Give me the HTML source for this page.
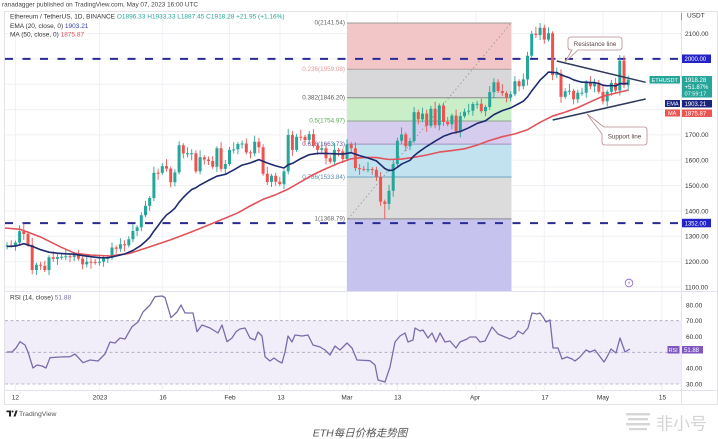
<!DOCTYPE html>
<html><head><meta charset="utf-8">
<style>
html,body{margin:0;padding:0;background:#fff;width:718px;height:439px;overflow:hidden;}
svg{display:block;font-family:"Liberation Sans","Noto Sans CJK SC",sans-serif;}
.ax{font-size:6.5px;fill:#333;}
.lg{font-size:6.5px;fill:#333;}
.tg{font-size:6px;fill:#fff;}
.fl{font-size:6.3px;text-anchor:end;dominant-baseline:middle;}
</style></head>
<body>
<svg width="718" height="439" viewBox="0 0 718 439" xmlns="http://www.w3.org/2000/svg">
<defs>
<clipPath id="pp"><rect x="5" y="12" width="676.5" height="279.5"/></clipPath>
<clipPath id="rp"><rect x="5" y="292" width="676.5" height="98"/></clipPath>
</defs>
<rect width="718" height="439" fill="#fff"/>
<text x="2" y="6.5" style="font-size:6.4px;fill:#444">ranadagger published on TradingView.com, May 07, 2023 16:00 UTC</text>
<rect x="4.5" y="11.5" width="713" height="393" fill="none" stroke="#e4e4e8"/>

<g clip-path="url(#pp)">
 <g stroke="#f0f1f5" stroke-width="1">
  <line x1="5" x2="681" y1="33.5" y2="33.5"/><line x1="5" x2="681" y1="58.9" y2="58.9"/>
  <line x1="5" x2="681" y1="84.2" y2="84.2"/><line x1="5" x2="681" y1="109.6" y2="109.6"/>
  <line x1="5" x2="681" y1="134.9" y2="134.9"/><line x1="5" x2="681" y1="160.3" y2="160.3"/>
  <line x1="5" x2="681" y1="185.6" y2="185.6"/><line x1="5" x2="681" y1="211" y2="211"/>
  <line x1="5" x2="681" y1="236.3" y2="236.3"/><line x1="5" x2="681" y1="261.7" y2="261.7"/>
  <line x1="5" x2="681" y1="287" y2="287"/>
  <line x1="15.4" x2="15.4" y1="12" y2="291"/><line x1="99.4" x2="99.4" y1="12" y2="291"/>
  <line x1="162.3" x2="162.3" y1="12" y2="291"/><line x1="229.5" x2="229.5" y1="12" y2="291"/>
  <line x1="280" x2="280" y1="12" y2="291"/><line x1="347" x2="347" y1="12" y2="291"/>
  <line x1="397.4" x2="397.4" y1="12" y2="291"/><line x1="476" x2="476" y1="12" y2="291"/>
  <line x1="544.3" x2="544.3" y1="12" y2="291"/><line x1="603" x2="603" y1="12" y2="291"/>
  <line x1="662" x2="662" y1="12" y2="291"/>
 </g>
 <!-- fib -->
 <rect x="347" y="23" width="164.5" height="46.2" fill="#f2c6c7"/>
 <rect x="347" y="69.2" width="164.5" height="28.6" fill="#d8d8da"/>
 <rect x="347" y="97.8" width="164.5" height="23.2" fill="#c9eec8"/>
 <rect x="347" y="121" width="164.5" height="23.1" fill="#d5ccee"/>
 <rect x="347" y="144.1" width="164.5" height="32.9" fill="#c2e2ef"/>
 <rect x="347" y="177" width="164.5" height="41.9" fill="#dcdcdd"/>
 <rect x="347" y="218.9" width="164.5" height="73" fill="#c6c3ef"/>
 <g stroke-width="1">
  <line x1="347" x2="511.5" y1="23" y2="23" stroke="#9a9a9a"/>
  <line x1="347" x2="511.5" y1="69.2" y2="69.2" stroke="#a8a0a0"/>
  <line x1="347" x2="511.5" y1="97.8" y2="97.8" stroke="#8a8a8a"/>
  <line x1="347" x2="511.5" y1="121" y2="121" stroke="#8fa88f"/>
  <line x1="347" x2="511.5" y1="144.1" y2="144.1" stroke="#a090c0"/>
  <line x1="347" x2="511.5" y1="177" y2="177" stroke="#6aa5c0"/>
  <line x1="347" x2="511.5" y1="218.9" y2="218.9" stroke="#8a8a8a"/>
 </g>
 <line x1="348" y1="219" x2="511" y2="23" stroke="#9a9a9a" stroke-width="0.9" stroke-dasharray="1.5 2.5"/>
 <text class="fl" x="345" y="23" fill="#666">0(2141.54)</text>
 <text class="fl" x="345" y="69.5" fill="#e29a9e">0.236(1959.08)</text>
 <text class="fl" x="345" y="98" fill="#555">0.382(1846.20)</text>
 <text class="fl" x="345" y="121" fill="#5aa85a">0.5(1754.97)</text>
 <text class="fl" x="345" y="144.3" fill="#6a5a9a">0.618(1663.73)</text>
 <text class="fl" x="345" y="177.3" fill="#5a8aa5">0.786(1533.84)</text>
 <text class="fl" x="345" y="219" fill="#666">1(1368.79)</text>
 <!-- dashed horizontal -->
 <line x1="5" x2="680" y1="58.9" y2="58.9" stroke="#2a2a96" stroke-width="2" stroke-dasharray="8 9.5"/>
 <line x1="5" x2="680" y1="223.1" y2="223.1" stroke="#2a2a96" stroke-width="2" stroke-dasharray="8 9.5"/>

 <!-- candles: green wicks -->
 <path fill="none" stroke="#26a69a" stroke-width="0.9" d="M7 242.2V249.4M15.4 240.6V250.7M19.6 225.2V245.6M36.4 262.7V275M49 255.3V275M57.4 253.1V264.9M61.6 253.8V259.8M65.8 249.3V260.3M74.2 252.1V261.1M86.8 255.7V267.4M99.4 254.7V265.7M103.6 256.1V266.7M107.8 254.85V262.9M112 242.45V259.85M120.4 238.2V251.7M128.8 236.3V247.4M132.9 224V242.3M137.1 225.2V236M141.3 212.3V231.2M145.5 200.9V217.3M149.7 196V210.9M153.9 166.7V201M162.3 163.1V174.9M174.9 169.4V186.3M179.1 141.2V174.4M187.5 147.2V157.4M191.7 149.2V160.2M200.1 150.2V174.4M216.9 146.3V171.8M225.3 160.05V174.9M229.5 146.9V166.05M233.7 142.35V153.35M237.9 142V154.35M242.1 140.5V148.5M254.7 135.7V156.4M271.5 173.7V187.05M284 169.4V189.1M288.2 128.9V174.4M296.6 133.7V151.9M309.2 131.1V144M321.8 142.3V152.9M334.4 142.9V164.8M347 139.3V161M368 162.1V172.4M389 184.7V209.7M393.2 160.05V196.7M397.4 137.7V166.05M401.6 127.4V143.7M410 138V150.3M414.1 107.1V143M422.5 107.6V122.4M430.9 105.8V127.8M439.3 103.5V130.3M451.9 113.6V129.25M460.3 112.1V137.35M464.5 108.6V118.1M468.7 103.8V114.6M472.9 102V115.8M477.1 100.7V108.7M485.5 105V116.1M489.7 86.1V110M493.9 78.2V98.1M510.7 91.3V101.4M514.9 76.2V96.3M523.3 73.4V89.2M527.5 51.8V85.4M531.7 30.75V57.8M540.1 23V40M548.5 27.2V41.6M556.8 67.55V78.1M565.2 88.3V98.9M569.4 83.8V94.8M577.8 89.8V103.2M582 87.8V95.8M586.2 80.2V97.8M594.6 78.9V92.2M607.2 89.8V106.4M611.4 79.9V95.8M619.8 55.3V95.5M628.2 75.6V91.2"/>
 <!-- green bodies -->
 <path fill="#26a69a" d="M5.5 245.2h3V246.2h-3ZM13.9 242.6h3V245.7h-3ZM18.1 231.2h3V242.6h-3ZM34.9 264.7h3V270h-3ZM47.5 257.3h3V270h-3ZM55.9 257.1h3V258.9h-3ZM60.1 256.8h3V257.8h-3ZM64.3 256.3h3V257.3h-3ZM72.7 255.1h3V257.1h-3ZM85.3 261.7h3V264.4h-3ZM97.9 261.7h3V262.7h-3ZM102.1 258.1h3V261.7h-3ZM106.3 257.85h3V258.85h-3ZM110.5 247.45h3V257.85h-3ZM118.9 244.2h3V248.7h-3ZM127.3 239.3h3V245.4h-3ZM131.4 231h3V239.3h-3ZM135.6 227.2h3V231h-3ZM139.8 215.3h3V227.2h-3ZM144 205.9h3V215.3h-3ZM148.2 198h3V205.9h-3ZM152.4 172.7h3V198h-3ZM160.8 166.1h3V172.9h-3ZM173.4 172.4h3V182.3h-3ZM177.6 145.3h3V172.4h-3ZM186 153.2h3V154.2h-3ZM190.2 153.2h3V154.2h-3ZM198.6 157.2h3V171.4h-3ZM215.4 148.3h3V166.8h-3ZM223.8 164.05h3V168.9h-3ZM228 149.9h3V164.05h-3ZM232.2 149.35h3V150.35h-3ZM236.4 144h3V149.35h-3ZM240.6 143.5h3V144.5h-3ZM253.2 141.7h3V153.4h-3ZM270 175.7h3V182.05h-3ZM282.5 171.4h3V184.1h-3ZM286.7 134.9h3V171.4h-3ZM295.1 136.7h3V149.9h-3ZM307.7 134.1h3V140h-3ZM320.3 148.3h3V149.9h-3ZM332.9 149.9h3V161.8h-3ZM345.5 144.3h3V159h-3ZM366.5 169.1h3V170.1h-3ZM387.5 190.7h3V203.85h-3ZM391.7 164.05h3V190.7h-3ZM395.9 140.7h3V164.05h-3ZM400.1 134.4h3V140.7h-3ZM408.5 141h3V146.3h-3ZM412.6 112.1h3V141h-3ZM421 113.6h3V119.4h-3ZM429.4 108.8h3V125.8h-3ZM437.8 105.5h3V125.3h-3ZM450.4 115.6h3V124.25h-3ZM458.8 116.1h3V131.35h-3ZM463 111.6h3V116.1h-3ZM467.2 110.8h3V111.6h-3ZM471.4 104h3V110.8h-3ZM475.6 103.7h3V104.7h-3ZM484 107h3V111.1h-3ZM488.2 92.1h3V107h-3ZM492.4 82.2h3V92.1h-3ZM509.2 94.3h3V97.4h-3ZM513.4 81.2h3V94.3h-3ZM521.8 79.4h3V86.2h-3ZM526 55.8h3V79.4h-3ZM530.2 33.75h3V55.8h-3ZM538.6 27.7h3V35h-3ZM547 33.25h3V39.6h-3ZM555.3 73.55h3V75.1h-3ZM563.7 91.3h3V96.9h-3ZM567.9 90.8h3V91.8h-3ZM576.3 92.8h3V99.2h-3ZM580.5 92.8h3V93.8h-3ZM584.7 82.2h3V92.8h-3ZM593.1 82.9h3V86.2h-3ZM605.7 91.8h3V101.4h-3ZM609.9 82.9h3V91.8h-3ZM618.3 60.6h3V90.5h-3ZM626.7 79.6h3V85.2h-3Z"/>
 <!-- red wicks -->
 <path fill="none" stroke="#ef5350" stroke-width="0.9" d="M11.2 240.2V247.7M23.8 223.6V240M28 231V246.9M32.2 237.9V274.3M40.6 261.7V269.7M44.8 260.7V272M53.2 251.3V261.9M70 254.3V262.1M78.4 250.1V260.6M82.6 256.6V269.4M91 257.7V268.7M95.2 258.9V264.7M116.2 245.45V253.7M124.6 240.2V251.4M158.1 168.7V179.7M166.5 159.1V171.6M170.7 166.6V187.3M183.3 143.3V158.4M195.9 150.2V173.4M204.3 155.2V164.5M208.5 156.5V165M212.7 156V168.8M221.1 142.3V171.9M246.3 138.5V154.4M250.5 150.4V158.4M258.9 137.7V153.3M263.1 144.3V175.7M267.3 166.7V185.05M275.7 172.7V185.8M279.8 176.8V186.1M292.4 130.9V155.9M300.8 129.7V140.7M305 134.9V145M313.4 129.1V147.55M317.6 143.55V154.9M326 144.3V164.2M330.2 155.2V163.8M338.6 147.9V156.4M342.8 148.4V163M351.2 142.3V153.3M355.4 142.3V171.1M359.6 164.1V174.9M363.8 165.9V171.4M372.2 167.1V174.9M376.4 166.9V181M380.6 172V205.9M384.8 199.6V218.9M405.8 132.4V151.3M418.3 109.55V124.4M426.7 109.6V131.8M435.1 101.8V128.3M443.5 102.5V126M447.7 117V126.25M456.1 109.6V134.35M481.3 98.7V113.1M498.1 79.2V93M502.3 84V96.1M506.5 91.1V102.4M519.1 79.2V91.2M535.9 26.75V38M544.3 24.7V43.6M552.6 31.25V80.1M561 69.55V102.9M573.6 88.8V104.2M590.4 76.2V89.2M598.8 79.9V93.8M603 84.8V104.4M615.6 77.9V92.5M624 55.5V88.2"/>
 <!-- red bodies -->
 <path fill="#ef5350" d="M9.7 245.2h3V246.2h-3ZM22.3 231.2h3V234h-3ZM26.5 234h3V244.9h-3ZM30.7 244.9h3V270h-3ZM39.1 264.7h3V265.7h-3ZM43.3 265.7h3V270h-3ZM51.7 257.3h3V258.9h-3ZM68.5 256.3h3V257.3h-3ZM76.9 255.1h3V258.6h-3ZM81.1 258.6h3V264.4h-3ZM89.5 261.7h3V262.7h-3ZM93.7 261.9h3V262.9h-3ZM114.7 247.45h3V248.7h-3ZM123.1 244.2h3V245.4h-3ZM156.6 172.7h3V173.7h-3ZM165 166.1h3V168.6h-3ZM169.2 168.6h3V182.3h-3ZM181.8 145.3h3V153.4h-3ZM194.4 153.2h3V171.4h-3ZM202.8 157.2h3V159.5h-3ZM207 159.5h3V161h-3ZM211.2 161h3V166.8h-3ZM219.6 148.3h3V168.9h-3ZM244.8 143.5h3V152.4h-3ZM249 152.4h3V153.4h-3ZM257.4 141.7h3V147.3h-3ZM261.6 147.3h3V173.7h-3ZM265.8 173.7h3V182.05h-3ZM274.2 175.7h3V181.8h-3ZM278.3 181.8h3V184.1h-3ZM290.9 134.9h3V149.9h-3ZM299.3 136.7h3V137.7h-3ZM303.5 136.9h3V140h-3ZM311.9 134.1h3V145.55h-3ZM316.1 145.55h3V149.9h-3ZM324.5 148.3h3V158.2h-3ZM328.7 158.2h3V161.8h-3ZM337.1 149.9h3V151.4h-3ZM341.3 151.4h3V159h-3ZM349.7 144.3h3V148.3h-3ZM353.9 148.3h3V168.1h-3ZM358.1 168.1h3V169.1h-3ZM362.3 168.9h3V169.9h-3ZM370.7 169.1h3V170.1h-3ZM374.9 169.9h3V177h-3ZM379.1 177h3V201.6h-3ZM383.3 201.6h3V203.85h-3ZM404.3 134.4h3V146.3h-3ZM416.8 112.1h3V119.4h-3ZM425.2 113.6h3V125.8h-3ZM433.6 108.8h3V125.3h-3ZM442 105.5h3V122h-3ZM446.2 122h3V124.25h-3ZM454.6 115.6h3V131.35h-3ZM479.8 103.7h3V111.1h-3ZM496.6 82.2h3V91h-3ZM500.8 91h3V93.1h-3ZM505 93.1h3V97.4h-3ZM517.6 81.2h3V86.2h-3ZM534.4 33.75h3V35h-3ZM542.8 27.7h3V39.6h-3ZM551.1 33.25h3V75.1h-3ZM559.5 73.55h3V96.9h-3ZM572.1 90.8h3V99.2h-3ZM588.9 82.2h3V86.2h-3ZM597.3 82.9h3V91.8h-3ZM601.5 91.8h3V101.4h-3ZM614.1 82.9h3V90.5h-3ZM622.5 60.6h3V85.2h-3Z"/>

 <!-- MA 50 -->
 <polyline fill="none" stroke="#e0535b" stroke-width="1.6" stroke-linejoin="round" points="5,228 20,229.3 40,236.7 60,246.7 75,253.3 90,255 110,256 130,253.3 150,246.7 170,240 190,232.5 200,228.5 212.7,223.2 225.3,218.1 237.9,212.8 250.5,205.75 263.1,199.3 275.7,194.7 288.2,189.1 300.8,181.8 313.4,174.5 326,168.6 338.6,163.25 351.2,158.8 363.8,157.4 376.4,157.6 389,159.5 401.6,159.1 414.1,157.3 426.7,155 439.3,152.1 451.9,150.6 464.5,148.8 477.1,145.1 489.7,140.5 502.3,136.7 514.9,133.9 527.5,129.7 540.1,122.3 552.6,116.05 565.2,112.1 577.8,107.6 590.4,101.8 603,96.2 615.6,93.1 628.2,90.1"/>
 <!-- EMA 20 -->
 <polyline fill="none" stroke="#1d2a6e" stroke-width="1.6" stroke-linejoin="round" points="7,246.5 15.4,246.1 23.8,243.7 32.2,246.3 40.6,249.7 49,252.2 57.4,253.2 65.8,253.8 74.2,254.2 82.6,255.6 91,256.7 99.4,257.7 107.8,257.75 116.2,256 124.6,254 132.9,250.5 141.3,245.15 145.5,241.4 149.7,237.3 153.9,231.1 158.1,225.6 162.3,219.9 166.5,215 170.7,211.9 174.9,208.2 179.1,202.2 183.3,197.5 187.5,193.3 191.7,189.5 195.9,187.75 200.1,184.9 208.5,180.4 216.9,176.2 225.3,174.4 233.7,169.9 242.1,165.1 250.5,162.9 258.9,159.6 267.3,163 275.7,165.9 284,168 288.2,164.8 292.4,163.4 300.8,158.6 309.2,154.65 317.6,153.4 326,153.4 334.4,153.8 342.8,154.1 351.2,152.7 359.6,155.6 368,158 376.4,160.9 380.6,164.7 384.8,168.5 389,170.6 393.2,170 397.4,167.2 401.6,164.05 410,160.3 414.1,155.7 418.3,152.3 426.7,146.4 435.1,141.2 443.5,136.3 451.9,133.25 460.3,131.5 468.7,127.8 477.1,123.4 485.5,120.8 493.9,114.65 502.3,110.6 510.7,107.9 519.1,103.5 523.3,101.2 527.5,96.9 531.7,90.9 535.9,85.6 540.1,80.1 544.3,76.2 548.5,72.1 552.6,72.4 556.8,72.5 561,74.8 565.2,76.4 569.4,77.8 573.6,79.8 577.8,81.1 582,82.2 586.2,82.2 590.4,82.55 594.6,82.6 598.8,83.5 603,85.2 607.2,85.8 611.4,85.5 615.6,86 619.8,83.6 624,83.7 628.2,83.4"/>

 <!-- trend lines -->
 <line x1="556.7" y1="61" x2="645.7" y2="82.3" stroke="#2e3a58" stroke-width="1.5"/>
 <line x1="552.7" y1="120" x2="645.7" y2="99" stroke="#2e3a58" stroke-width="1.5"/>
 <!-- callouts -->
 <path d="M571,37 H619 Q622,37 622,40 V47 Q622,50 619,50 H578 L565,62 L572,50 H571 Q568,50 568,47 V40 Q568,37 571,37 Z" fill="#fff" stroke="#b98a8c" stroke-width="0.8"/>
 <text x="595" y="45.8" text-anchor="middle" style="font-size:6.3px;fill:#5a4646">Resistance line</text>
 <path d="M605,127 H644 Q647,127 647,130 V142 Q647,145 644,145 H605 Q602,145 602,142 V134 L587,114 L604,127 Z" fill="#fff" stroke="#b98a8c" stroke-width="0.8"/>
 <text x="624.5" y="138.3" text-anchor="middle" style="font-size:6.3px;fill:#5a4646">Support line</text>
 <!-- lightning -->
 <circle cx="629" cy="283" r="3.8" fill="#fff" stroke="#9064c8" stroke-width="0.8"/>
 <path d="M629.8,280.6 L628,283.3 L629.4,283.3 L628.3,285.6 L630.2,282.6 L628.9,282.6 Z" fill="#9064c8"/>
</g>

<!-- legend -->
<text class="lg" x="10" y="18.5">Ethereum / TetherUS, 1D, BINANCE <tspan fill="#26a69a">O1896.33</tspan> <tspan fill="#26a69a">H1933.33</tspan> <tspan fill="#26a69a">L1887.45</tspan> <tspan fill="#26a69a">C1918.28</tspan> <tspan fill="#26a69a">+21.95 (+1.16%)</tspan></text>
<text class="lg" x="10" y="28">EMA (20, close, 0) <tspan fill="#2f3fa8">1903.21</tspan></text>
<text class="lg" x="10" y="36.5">MA (50, close, 0) <tspan fill="#e0535b">1875.87</tspan></text>

<!-- separators -->
<line x1="681.5" y1="11.5" x2="681.5" y2="404" stroke="#e0e3eb"/>
<line x1="5" y1="291.5" x2="717" y2="291.5" stroke="#e0e3eb"/>
<line x1="5" y1="390.5" x2="717" y2="390.5" stroke="#e0e3eb"/>
<line x1="681.5" y1="13" x2="681.5" y2="20" stroke="#999"/>

<!-- price axis -->
<text class="ax" x="687" y="17.5">USDT</text>
<g class="ax">
<text x="685" y="35.8">2100.00</text>
<text x="685" y="137.2">1700.00</text>
<text x="685" y="162.6">1600.00</text>
<text x="685" y="187.9">1500.00</text>
<text x="685" y="213.3">1400.00</text>
<text x="685" y="238.6">1300.00</text>
<text x="685" y="264">1200.00</text>
<text x="685" y="289.3">1100.00</text>
</g>
<rect x="682" y="54.5" width="29" height="8.5" fill="#2222c8"/>
<text class="tg" x="684.5" y="61">2000.00</text>
<rect x="682" y="218.8" width="29" height="8.5" fill="#2222c8"/>
<text class="tg" x="684.5" y="225.3">1352.00</text>
<rect x="649.5" y="76" width="30.5" height="7.5" rx="0.5" fill="#26a69a"/>
<text class="tg" x="651.5" y="82" style="font-size:5.6px">ETHUSDT</text>
<rect x="682" y="76" width="30" height="21.5" fill="#26a69a"/>
<text class="tg" x="684.5" y="82.2">1918.28</text>
<text class="tg" x="684.5" y="89">+51.87%</text>
<text class="tg" x="684.5" y="95.6" style="font-size:5.6px">07:59:17</text>
<rect x="665" y="100" width="15" height="7" fill="#1a237e"/>
<text class="tg" x="666.5" y="105.6" style="font-size:5.6px">EMA</text>
<rect x="682" y="100" width="30" height="7.5" fill="#1a237e"/>
<text class="tg" x="684.5" y="106.2">1903.21</text>
<rect x="665" y="109.5" width="15" height="7" fill="#ef5350"/>
<text class="tg" x="668" y="115" style="font-size:5.6px">MA</text>
<rect x="682" y="109.5" width="30" height="7.5" fill="#ef5350"/>
<text class="tg" x="684.5" y="115.7">1875.87</text>

<!-- RSI pane -->
<g clip-path="url(#rp)">
 <g stroke="#f0f1f5">
  <line x1="15.4" x2="15.4" y1="292" y2="390"/><line x1="99.4" x2="99.4" y1="292" y2="390"/>
  <line x1="162.3" x2="162.3" y1="292" y2="390"/><line x1="229.5" x2="229.5" y1="292" y2="390"/>
  <line x1="280" x2="280" y1="292" y2="390"/><line x1="347" x2="347" y1="292" y2="390"/>
  <line x1="397.4" x2="397.4" y1="292" y2="390"/><line x1="476" x2="476" y1="292" y2="390"/>
  <line x1="544.3" x2="544.3" y1="292" y2="390"/><line x1="603" x2="603" y1="292" y2="390"/>
  <line x1="662" x2="662" y1="292" y2="390"/>
 </g>
 <rect x="5" y="320.7" width="676.5" height="63.3" fill="#f1eef9"/>
 <g stroke="#aaa6bf" stroke-width="0.8" stroke-dasharray="3 2.5">
  <line x1="5" x2="681" y1="320.7" y2="320.7"/>
  <line x1="5" x2="681" y1="352.3" y2="352.3"/>
  <line x1="5" x2="681" y1="384" y2="384"/>
 </g>
 <polyline fill="none" stroke="#7b6bab" stroke-width="1.3" stroke-linejoin="round" points="7,352 12,352 16,348 20,341.7 25,345 28,352 33,368 37,365 42,366 46,368 50,357.7 60,357 70,356.7 75,354 83,362.7 90,360 98,361 105,354 110,342 115,343 120,338 125,339 132,326.7 138,322 143,312 150,305 155,296.7 162,296 165,297.5 171,317.7 177,312 181,305 185,313 193,313 197,331.7 202,325 210,328 218,333 222,325 227,341.7 232,338 236,331.7 240,329 245,328 250,338 255,340 258,332 262,336 265,356.7 270,361 274,358 278,361 282,363 285,352 288,336 292,342 295,335 302,336 308,335 313,345 320,347 325,350 330,355 335,346 340,350 347,343 352,348 357,360 370,360.7 375,365 378,380 385,382 390,367 395,342 400,336 405,333 408,342 413,340 415,328 420,331 423,330 428,338 432,333 436,342 440,333 445,342 450,341 456,348 460,342 467,339 470,337 476,337 480,342 485,341 492,327 498,334 505,337 510,339 515,336 518,331 523,334 528,328 532,313 537,314 540,313 543,317 546,322 550,320 553,348 558,348 562,359 567,357 572,359 575,361 580,357 586,350 590,352 595,350 598,354 604,362 607,357 611,349 616,353 620,338 625,352 630,349"/>
</g>
<text class="lg" x="10" y="299.5">RSI (14, close) <tspan fill="#7b6bab">51.88</tspan></text>
<g class="ax">
<text x="686" y="307.3">80.00</text>
<text x="686" y="323">70.00</text>
<text x="686" y="338.8">60.00</text>
<text x="686" y="370.3">40.00</text>
<text x="686" y="386.3">30.00</text>
</g>
<rect x="667.5" y="346" width="12" height="7.5" fill="#7e57c2"/>
<text class="tg" x="668.6" y="351.8" style="font-size:5.4px">RSI</text>
<rect x="682" y="346" width="21" height="7.5" fill="#7e57c2"/>
<text class="tg" x="684" y="352.2">51.88</text>

<!-- date axis -->
<g class="ax" text-anchor="middle">
<text x="15.4" y="399.5">12</text>
<text x="100" y="399.5">2023</text>
<text x="163" y="399.5">16</text>
<text x="230" y="399.5">Feb</text>
<text x="281" y="399.5">13</text>
<text x="347" y="399.5">Mar</text>
<text x="397.7" y="399.5">13</text>
<text x="475" y="399.5">Apr</text>
<text x="545" y="399.5">17</text>
<text x="603" y="399.5">May</text>
<text x="662.5" y="399.5">15</text>
</g>

<!-- footer -->
<path d="M6.5,410.5 H11 V416.5 H9 V412.3 H6.5 Z" fill="#222"/>
<circle cx="12.5" cy="411.5" r="1" fill="#222"/>
<path d="M13.5,416.5 L15.6,410.5 H17.6 L15.5,416.5 Z" fill="#222"/>
<text x="19" y="416" style="font-size:6.8px;fill:#555">TradingView</text>
<text x="360" y="436.5" text-anchor="middle" style="font-size:10.5px;fill:#555;font-style:italic;font-family:'Liberation Sans','Noto Sans CJK SC',sans-serif">ETH每日价格走势图</text>
<g fill="#d6d6d6">
<rect x="626" y="413" width="24" height="2.4"/>
<rect x="628" y="418" width="20" height="2.4"/>
<rect x="626" y="423" width="24" height="2.4"/>
<rect x="629" y="428" width="18" height="2.2"/>
</g>
<text x="656" y="429.5" style="font-size:17px;fill:#d4d4d4;font-family:'Liberation Sans','Noto Sans CJK SC',sans-serif">非小号</text>
</svg>
</body></html>
